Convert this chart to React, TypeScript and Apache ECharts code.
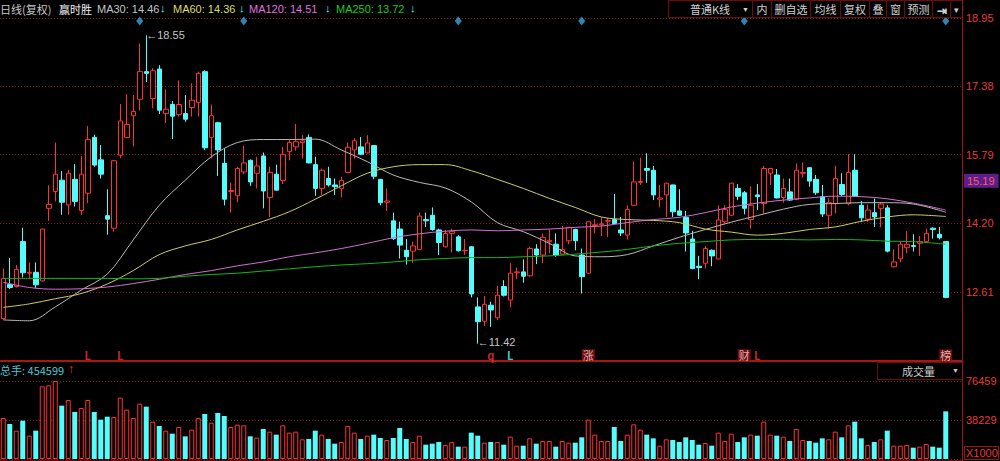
import React, { useEffect, useRef } from 'react';
import * as echarts from 'echarts';

// [open, close, low, high]
const ohlc: number[][] = [
  [12.00, 12.93, 11.97, 13.16], [12.79, 12.72, 12.68, 13.40], [12.74, 13.14, 12.72, 13.24], [13.78, 13.06, 12.95, 14.10],
  [13.05, 13.07, 12.91, 13.30], [13.07, 12.78, 12.70, 13.30], [12.87, 14.07, 12.86, 14.08], [14.55, 14.64, 14.26, 15.08],
  [14.94, 15.34, 14.71, 16.07], [15.20, 14.69, 14.40, 15.41], [14.63, 15.36, 14.40, 15.44], [15.22, 14.71, 14.59, 15.57],
  [14.50, 15.34, 14.40, 15.76], [14.90, 16.14, 14.67, 16.45], [16.19, 15.55, 15.51, 16.25], [15.67, 15.34, 15.24, 16.01],
  [14.38, 14.30, 13.94, 14.99], [14.09, 15.65, 14.01, 15.67], [15.78, 16.57, 15.71, 16.96], [16.19, 16.49, 16.17, 17.19],
  [16.69, 16.79, 15.98, 17.17], [17.07, 17.71, 16.81, 18.36], [17.71, 17.67, 17.47, 18.55], [17.09, 17.73, 16.86, 17.79],
  [17.77, 16.82, 16.73, 17.86], [16.74, 16.84, 16.52, 17.30], [16.95, 16.68, 16.15, 17.03], [16.72, 16.95, 16.67, 17.51],
  [16.74, 16.61, 16.55, 17.17], [16.88, 17.05, 16.67, 17.44], [17.00, 17.67, 16.67, 17.71], [17.71, 15.95, 15.90, 17.74],
  [16.19, 16.69, 15.70, 16.95], [16.53, 15.90, 15.30, 16.55], [15.59, 14.76, 14.62, 15.93], [14.94, 14.96, 14.45, 15.15],
  [14.84, 15.47, 14.69, 15.51], [15.39, 15.60, 15.34, 15.99], [15.66, 15.16, 15.07, 15.68], [15.36, 15.53, 15.01, 15.74],
  [15.76, 14.95, 14.55, 15.84], [14.80, 15.38, 14.35, 15.51], [15.34, 14.97, 14.96, 15.56], [15.19, 15.80, 15.11, 15.97],
  [15.86, 16.07, 15.66, 16.13], [15.97, 16.09, 15.88, 16.50], [16.07, 16.11, 15.70, 16.24], [16.19, 15.60, 15.59, 16.26],
  [15.56, 15.01, 14.84, 15.74], [15.01, 15.43, 14.86, 15.47], [15.24, 15.09, 15.05, 15.51], [15.09, 15.05, 14.86, 15.24],
  [15.01, 15.19, 14.80, 15.28], [15.38, 15.96, 15.36, 16.07], [15.90, 16.11, 15.70, 16.17], [15.97, 15.80, 15.78, 16.20],
  [15.83, 16.06, 15.82, 16.24], [16.00, 15.29, 15.22, 16.01], [15.22, 14.68, 14.62, 15.22], [14.69, 14.72, 14.49, 15.01],
  [14.26, 13.85, 13.82, 14.45], [14.07, 13.70, 13.39, 14.24], [13.58, 13.43, 13.25, 13.84], [13.56, 13.68, 13.29, 13.78],
  [13.60, 14.37, 13.58, 14.45], [14.29, 14.26, 14.12, 14.45], [14.39, 14.06, 14.03, 14.57], [14.05, 13.76, 13.47, 14.08],
  [13.66, 13.97, 13.64, 14.05], [13.97, 14.02, 13.53, 14.08], [13.89, 13.57, 13.55, 13.93], [13.57, 13.58, 13.47, 13.84],
  [13.66, 12.57, 12.49, 13.68], [12.27, 11.93, 11.42, 12.49], [11.94, 12.33, 11.83, 12.52], [12.31, 12.20, 11.81, 12.39],
  [12.02, 12.54, 11.97, 12.76], [12.74, 12.54, 12.51, 12.89], [12.43, 13.05, 12.26, 13.28], [13.06, 13.08, 12.91, 13.18],
  [13.08, 12.98, 12.83, 13.37], [12.99, 13.62, 12.97, 13.66], [13.61, 13.47, 13.26, 13.72], [13.47, 13.88, 13.28, 13.97],
  [13.78, 13.81, 13.51, 14.06], [13.72, 13.47, 13.43, 13.97], [13.49, 13.60, 13.47, 14.14], [13.80, 14.11, 13.72, 14.12],
  [14.06, 13.80, 13.58, 14.08], [13.47, 12.97, 12.58, 13.62], [13.05, 14.24, 13.03, 14.25], [14.15, 14.17, 13.97, 14.30],
  [14.17, 14.19, 13.91, 14.34], [14.25, 14.27, 13.89, 14.33], [14.29, 14.20, 14.19, 14.88], [14.05, 13.98, 13.91, 14.35],
  [13.93, 14.52, 13.83, 14.62], [14.62, 15.16, 14.61, 15.63], [15.15, 15.17, 15.09, 15.72], [15.47, 15.43, 15.14, 15.82],
  [15.43, 14.86, 14.74, 15.53], [14.76, 14.79, 14.57, 15.09], [14.86, 15.13, 14.35, 15.14], [15.09, 14.47, 14.35, 15.10],
  [14.49, 14.39, 14.37, 14.99], [14.34, 13.98, 13.55, 14.49], [13.84, 13.16, 13.14, 14.03], [13.21, 13.18, 12.91, 13.45],
  [13.28, 13.62, 13.16, 13.68], [13.58, 13.45, 13.21, 13.60], [13.38, 14.28, 13.37, 14.62], [14.24, 14.52, 14.20, 14.62],
  [14.39, 15.13, 14.37, 15.14], [15.01, 14.83, 14.74, 15.11], [14.91, 14.55, 14.41, 14.95], [14.29, 14.62, 14.08, 15.06],
  [14.86, 14.82, 14.51, 15.11], [14.66, 15.47, 14.43, 15.53], [15.36, 15.47, 15.09, 15.49], [15.32, 14.79, 14.78, 15.46],
  [14.80, 15.01, 14.68, 15.24], [14.93, 14.74, 14.72, 15.24], [14.76, 15.43, 14.74, 15.59], [15.36, 15.38, 15.26, 15.61],
  [15.49, 15.18, 15.05, 15.50], [15.22, 14.91, 14.86, 15.32], [14.82, 14.42, 14.35, 15.09], [14.39, 14.68, 14.08, 14.78],
  [14.66, 15.24, 14.43, 15.53], [15.10, 14.87, 14.83, 15.36], [14.66, 15.38, 14.62, 15.80], [15.43, 14.83, 14.82, 15.80],
  [14.62, 14.33, 14.24, 14.72], [14.30, 14.51, 14.24, 14.64], [14.45, 14.35, 14.12, 14.78], [14.55, 14.65, 14.11, 14.68],
  [14.56, 13.56, 13.53, 14.62], [13.20, 13.31, 13.18, 13.60], [13.38, 13.72, 13.30, 13.78], [13.64, 13.72, 13.51, 14.02],
  [13.69, 13.67, 13.55, 13.95], [13.74, 13.78, 13.45, 13.91], [13.78, 13.97, 13.75, 14.08], [14.09, 14.06, 13.85, 14.11],
  [13.95, 13.87, 13.83, 14.12], [13.78, 12.49, 12.47, 13.79],
];

const volumes: number[] = [
  40190, 34309, 27774, 37576, 22873, 27774, 71232, 72212, 76459, 52280,
  57835, 46072, 49993, 57835, 46072, 38557, 41497, 41171, 60122, 48359,
  40190, 54241, 51300, 36596, 32348, 27774, 24833, 31368, 22219, 28754,
  40190, 44111, 35616, 45092, 42151, 31368, 33655, 33002, 22219, 20912,
  29408, 26794, 23853, 33002, 25813, 26794, 19278, 19605, 27774, 23853,
  19605, 15031, 16664, 32348, 25813, 19605, 22873, 23853, 20585, 18625,
  20585, 30388, 19605, 16664, 22873, 14050, 15031, 16664, 13724, 16664,
  12090, 12090, 25813, 22873, 16011, 16664, 16664, 14050, 21892, 13070,
  13070, 20259, 15031, 17645, 17645, 12090, 17645, 16011, 16011, 21239,
  38557, 23853, 17645, 17645, 31368, 17645, 23853, 33982, 28754, 23853,
  20259, 13070, 19278, 18625, 16664, 21239, 18625, 14050, 15684, 13070,
  25813, 17645, 24833, 16664, 21239, 23853, 22873, 36596, 23853, 22873,
  21892, 17645, 29408, 18625, 17645, 16011, 20259, 19278, 26794, 21239,
  33002, 36596, 20259, 13724, 16664, 19278, 27774, 13070, 13070, 13724,
  11110, 12090, 14704, 12090, 11110, 46725,
];

// moving averages read at these candle indices
const maIdx = [0, 4, 8, 12, 16, 20, 24, 28, 32, 36, 40, 44, 48, 52, 56, 60, 64, 68, 72, 76, 80, 84, 88, 92, 96, 100, 104, 108, 112, 116, 120, 124, 128, 132, 136, 140, 145];
const ma30 = [11.97, 11.95, 12.27, 12.66, 13.03, 13.82, 14.62, 15.20, 15.74, 16.07, 16.14, 16.14, 16.15, 15.90, 15.63, 15.32, 15.15, 15.02, 14.70, 14.22, 14.01, 13.74, 13.45, 13.43, 13.48, 13.68, 13.88, 14.06, 14.23, 14.38, 14.53, 14.64, 14.66, 14.68, 14.68, 14.65, 14.46];
const ma60 = [12.26, 12.34, 12.46, 12.58, 12.80, 13.11, 13.48, 13.68, 13.83, 14.05, 14.25, 14.47, 14.76, 15.07, 15.36, 15.51, 15.56, 15.56, 15.42, 15.22, 15.01, 14.78, 14.57, 14.35, 14.29, 14.27, 14.22, 14.07, 14.00, 13.93, 13.97, 14.06, 14.12, 14.25, 14.35, 14.40, 14.36];
const ma120 = [12.84, 12.72, 12.68, 12.69, 12.73, 12.81, 12.91, 13.02, 13.11, 13.22, 13.31, 13.43, 13.52, 13.62, 13.74, 13.87, 13.96, 14.02, 14.05, 14.03, 14.05, 14.07, 14.11, 14.14, 14.22, 14.29, 14.34, 14.45, 14.58, 14.67, 14.74, 14.79, 14.83, 14.82, 14.77, 14.67, 14.51];
const ma250 = [12.93, 12.93, 12.93, 12.93, 12.93, 12.92, 12.93, 12.98, 13.02, 13.05, 13.10, 13.15, 13.20, 13.24, 13.27, 13.31, 13.36, 13.39, 13.41, 13.41, 13.43, 13.45, 13.49, 13.54, 13.60, 13.68, 13.74, 13.78, 13.82, 13.83, 13.83, 13.82, 13.83, 13.82, 13.79, 13.78, 13.72];

const maNames = ['MA30', 'MA60', 'MA120', 'MA250'];
const maLast = ['14.46', '14.36', '14.51', '13.72'];

const priceMin = 11.02;
const priceMax = 18.95;
const priceStep = 1.59;
const volMax = 76459;

const highMark = { idx: 22, value: 18.55 };
const lowMark = { idx: 73, value: 11.42 };
const refPrice = 15.19;
const totalHands = '454599';

const diamondIdx = [21, 37, 70, 89, 114, 145];
const eventIdx = [13, 18, 75, 78, 90, 114, 116, 145];
const eventText = ['L', 'L', 'q', 'L', '涨', '财', 'L', '榜'];
const eventKind = ['red', 'red', 'red', 'cyan', 'box', 'box', 'red', 'box'];

const N_CATS = 148;

const RED = '#ff3232';
const CYAN = '#54fcfc';
const AXIS_RED = '#e83a3a';
const DARK_RED = '#9a1414';
const GRID_RED = '#8a1a1a';
const FONT = '"Liberation Sans", "Noto Sans CJK SC", sans-serif';
const CJK = '"Noto Sans CJK SC", "Liberation Sans", sans-serif';

export default function App() {
  const ref = useRef<HTMLDivElement>(null);

  useEffect(() => {
    if (!ref.current) return;
    const chart = echarts.init(ref.current, null, { renderer: 'svg' });
    const categories = Array.from({ length: N_CATS }, (_, i) => String(i + 1));

    const maColors = ['#b8b8b8', '#cccc66', '#d46ed4', '#12b812'];
    const maLegendColors = ['#c0c4c8', '#dcdc70', '#e070e0', '#18cc18'];
    const maSets = [ma30, ma60, ma120, ma250];

    const maSeries = maSets.map((arr, k) => ({
      name: maNames[k],
      type: 'line',
      xAxisIndex: 0,
      yAxisIndex: 0,
      data: maIdx.map((ix, j) => [ix, arr[j]]),
      showSymbol: false,
      symbol: 'none',
      smooth: 0.35,
      lineStyle: { color: maColors[k], width: 1 },
      z: 3,
      silent: true,
    }));

    const volData = volumes.map((v, i) => {
      const up = ohlc[i][1] >= ohlc[i][0];
      return {
        value: v,
        itemStyle: up
          ? { color: '#000', borderColor: RED, borderWidth: 1 }
          : { color: CYAN, borderColor: CYAN, borderWidth: 0 },
      };
    });

    const eventData = eventIdx.map((ix, k) => {
      const kind = eventKind[k];
      const label: any = {
        show: true,
        position: 'inside',
        formatter: eventText[k],
        fontFamily: CJK,
        fontSize: 11,
        fontWeight: kind === 'box' ? 'normal' : 'bold',
        color: kind === 'cyan' ? CYAN : kind === 'box' ? '#f4d8d8' : RED,
      };
      if (kind === 'box') {
        label.backgroundColor = '#8e1212';
        label.padding = [1, 1, 0, 1];
      }
      return { value: [ix, 11.15], label };
    });

    const header: any[] = [];
    header.push({ type: 'text', x: 0, y: 9, style: { text: '日线(复权)', fill: '#c8c8c8', fontSize: 11, fontFamily: CJK, verticalAlign: 'middle' } });
    header.push({ type: 'text', x: 59, y: 9, style: { text: '赢时胜', fill: '#f0f0f0', fontSize: 11, fontFamily: CJK, verticalAlign: 'middle' } });
    const legX = [97, 173, 249, 336];
    const arrX = [160, 239, 325, 410];
    maNames.forEach((n, k) => {
      header.push({ type: 'text', x: legX[k], y: 9, style: { text: `${n}: ${maLast[k]}`, fill: maLegendColors[k], fontSize: 11, fontFamily: FONT, verticalAlign: 'middle' } });
      header.push({ type: 'text', x: arrX[k], y: 8, style: { text: '↓', fill: CYAN, fontSize: 11, fontWeight: 'bold', fontFamily: FONT, verticalAlign: 'middle' } });
    });

    // toolbar
    const cells = [
      [668, 752, '普通K线'], [752, 771, '内'], [771, 810, '删自选'], [810, 840, '均线'], [840, 869, '复权'],
      [869, 886, '叠'], [886, 904, '窗'], [904, 932, '预测'], [932, 950, '⇥'], [950, 962, '▾'],
    ] as [number, number, string][];
    cells.forEach(([a, b, t], k) => {
      header.push({ type: 'rect', shape: { x: a + 0.5, y: 0.5, width: b - a, height: 17 }, style: { fill: '#000', stroke: '#6e0c0c', lineWidth: 1 } });
      if (k === 0) {
        header.push({ type: 'text', x: 690, y: 9, style: { text: t, fill: '#cfcfcf', fontSize: 11, fontFamily: CJK, verticalAlign: 'middle' } });
        header.push({ type: 'text', x: 742, y: 9, style: { text: '▼', fill: '#cfcfcf', fontSize: 7, fontFamily: FONT, verticalAlign: 'middle' } });
      } else {
        header.push({ type: 'text', x: (a + b) / 2 + 0.5, y: 9, style: { text: t, fill: '#cfcfcf', fontSize: k === 8 ? 12 : k === 9 ? 9 : 11, fontWeight: k === 8 ? 'bold' : 'normal', fontFamily: CJK, align: 'center', verticalAlign: 'middle' } });
      }
    });

    // volume pane chrome
    header.push({ type: 'text', x: 0, y: 370, style: { text: `总手: ${totalHands}`, fill: '#50c6d2', fontSize: 11, fontFamily: CJK, verticalAlign: 'middle' } });
    header.push({ type: 'text', x: 68, y: 369, style: { text: '↑', fill: RED, fontSize: 12, fontWeight: 'bold', fontFamily: FONT, verticalAlign: 'middle' } });
    header.push({ type: 'rect', shape: { x: 877.5, y: 362.5, width: 85, height: 17 }, style: { fill: '#000', stroke: '#6e0c0c', lineWidth: 1 } });
    header.push({ type: 'text', x: 902, y: 371, style: { text: '成交量', fill: '#c8c8c8', fontSize: 11, fontFamily: CJK, verticalAlign: 'middle' } });
    header.push({ type: 'text', x: 952, y: 370, style: { text: '▼', fill: '#c8c8c8', fontSize: 7, fontFamily: FONT, verticalAlign: 'middle' } });
    header.push({ type: 'rect', shape: { x: 964.5, y: 446.5, width: 34, height: 13 }, style: { fill: '#000', stroke: DARK_RED, lineWidth: 1 } });
    header.push({ type: 'text', x: 966, y: 453, style: { text: 'X1000', fill: AXIS_RED, fontSize: 11, fontFamily: FONT, verticalAlign: 'middle' } });
    header.push({ type: 'line', shape: { x1: 962.5, y1: 0, x2: 962.5, y2: 461 }, style: { stroke: DARK_RED, lineWidth: 1 } });
    header.push({ type: 'line', shape: { x1: 0, y1: 460.5, x2: 962, y2: 460.5 }, style: { stroke: '#5a0a0a', lineWidth: 1 } });

    const option: any = {
      animation: false,
      backgroundColor: '#000',
      grid: [
        { left: 0, top: 18, width: 962, height: 343, containLabel: false, outerBoundsMode: 'none' },
        { left: 0, top: 381, width: 962, height: 78, containLabel: false, outerBoundsMode: 'none' },
      ],
      xAxis: [
        {
          type: 'category', gridIndex: 0, data: categories, boundaryGap: true,
          axisLine: { show: true, lineStyle: { color: '#a81616', width: 2 } },
          axisTick: { show: false }, axisLabel: { show: false }, splitLine: { show: false },
        },
        {
          type: 'category', gridIndex: 1, data: categories, boundaryGap: true,
          axisLine: { show: false }, axisTick: { show: false }, axisLabel: { show: false }, splitLine: { show: false },
        },
      ],
      yAxis: [
        {
          type: 'value', gridIndex: 0, position: 'right', min: priceMin, max: priceMax, interval: priceStep, scale: true,
          axisLine: { show: false }, axisTick: { show: false },
          axisLabel: {
            show: true, margin: 4, color: AXIS_RED, fontSize: 11, fontFamily: FONT,
            formatter: (v: number) => (v < priceMin + 0.5 ? '' : v.toFixed(2)),
          },
          splitLine: { show: true, lineStyle: { color: GRID_RED, type: [1, 2], width: 1 } },
        },
        {
          type: 'value', gridIndex: 1, position: 'right', min: 0, max: volMax, interval: volMax / 2,
          axisLine: { show: false }, axisTick: { show: false },
          axisLabel: {
            show: true, margin: 4, color: AXIS_RED, fontSize: 11, fontFamily: FONT,
            formatter: (v: number) => (v <= 0 ? '' : String(Math.floor(v))),
          },
          splitLine: { show: true, lineStyle: { color: GRID_RED, type: [1, 2], width: 1 } },
        },
      ],
      series: [
        {
          name: 'K',
          type: 'candlestick',
          xAxisIndex: 0,
          yAxisIndex: 0,
          data: ohlc,
          barWidth: 5,
          z: 2,
          silent: true,
          itemStyle: { color: '#000', color0: CYAN, borderColor: RED, borderColor0: CYAN, borderWidth: 1 },
          markPoint: {
            silent: true,
            symbol: 'circle',
            symbolSize: 0,
            label: { show: true, position: 'right', distance: 0, color: '#c4c4c4', fontSize: 11, fontFamily: FONT },
            data: [
              { coord: [highMark.idx, highMark.value], value: highMark.value, label: { formatter: `←${highMark.value.toFixed(2)}` } },
              { coord: [lowMark.idx, lowMark.value], value: lowMark.value, label: { formatter: `←${lowMark.value.toFixed(2)}`, offset: [0, -2] } },
            ],
          },
          markLine: {
            silent: true,
            symbol: ['none', 'none'],
            lineStyle: { color: 'rgba(0,0,0,0)', width: 1, type: 'solid' },
            label: {
              show: true, position: 'end', distance: 2, formatter: refPrice.toFixed(2),
              color: '#ff5a5a', backgroundColor: '#5a1f8c', padding: [2, 4, 1, 3], fontSize: 11, fontFamily: FONT,
            },
            data: [{ yAxis: refPrice }],
          },
        },
        ...maSeries,
        {
          name: 'marks',
          type: 'scatter',
          xAxisIndex: 0,
          yAxisIndex: 0,
          symbol: 'diamond',
          symbolSize: [7, 9],
          itemStyle: { color: '#38a8dc' },
          data: diamondIdx.map((ix) => [ix, 18.88]),
          z: 4,
          silent: true,
        },
        {
          name: 'events',
          type: 'scatter',
          xAxisIndex: 0,
          yAxisIndex: 0,
          symbol: 'circle',
          symbolSize: 1,
          itemStyle: { color: 'rgba(0,0,0,0)' },
          data: eventData,
          z: 4,
          silent: true,
        },
        {
          name: '成交量',
          type: 'bar',
          xAxisIndex: 1,
          yAxisIndex: 1,
          data: volData,
          barWidth: 5,
          silent: true,
        },
      ],
      graphic: header.map((g) => ({ ...g, z: 10, silent: true })),
    };

    chart.setOption(option);
    return () => chart.dispose();
  }, []);

  return (
    <div
      ref={ref}
      style={{ position: 'fixed', left: 0, top: 0, width: 1000, height: 461, background: '#000' }}
    />
  );
}
